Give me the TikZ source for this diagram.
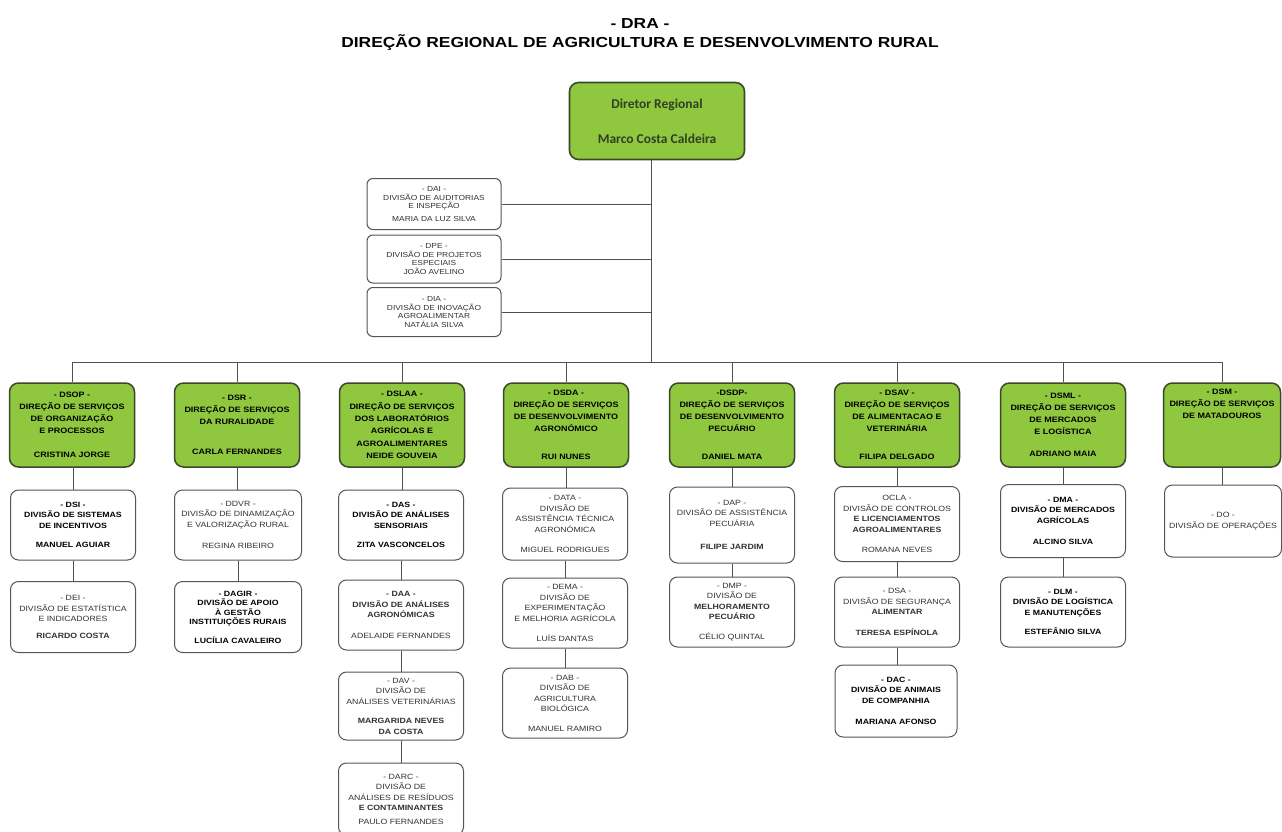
\documentclass[tikz,border=0pt]{standalone}
\usepackage{fontspec}
\usepackage{graphicx}
\setmainfont{Liberation Sans}[FakeStretch=1.15]
\newfontfamily\titlefont{Liberation Sans}[FakeStretch=1.2]
\newfontfamily\dirfont{Carlito}
\definecolor{boxgreen}{RGB}{143,200,62}
\definecolor{greenline}{RGB}{60,72,45}
\definecolor{boxline}{RGB}{85,85,85}
\definecolor{linkgray}{RGB}{80,80,80}
\definecolor{dirtext}{RGB}{50,62,38}
\definecolor{regtext}{RGB}{50,50,50}
\newcommand\bl[1]{\textbf{#1}}
\tikzset{
  dirbox/.style={draw=greenline, fill=boxgreen, rounded corners=9pt, line width=1.6pt,
    minimum width=175pt, minimum height=77pt, align=center, text=dirtext,
    font=\dirfont\bfseries\fontsize{13.5}{14}\selectfont, inner sep=1pt},
  staffbox/.style={draw=boxline, rounded corners=6pt, line width=1pt, fill=white,
    minimum width=134pt, align=center, text=regtext,
    font=\fontsize{7.3}{8.5}\selectfont, inner sep=1pt},
  dsbox/.style={draw=greenline, fill=boxgreen, rounded corners=9pt, line width=1.5pt,
    minimum width=125pt, minimum height=84pt, align=center, text=black,
    font=\bfseries\fontsize{7.8}{12}\selectfont, inner sep=1pt},
  divbox/.style={draw=boxline, rounded corners=8pt, line width=1pt, fill=white,
    minimum width=125pt, align=center, text=regtext,
    font=\fontsize{7.6}{10.5}\selectfont, inner sep=1pt},
  boldfont/.style={font=\bfseries\fontsize{7.6}{10.5}\selectfont, text=black},
  link/.style={draw=linkgray, line width=0.9pt}
}
\begin{document}
\begin{tikzpicture}[x=1pt,y=-1pt]
\useasboundingbox (0,0) rectangle (1282,832);
\fill[white] (0,0) rectangle (1282,832);

% title
\node[align=center, font=\titlefont\bfseries\fontsize{14.5}{19}\selectfont] (title) at (640,35)
  {- DRA -\\DIREÇÃO REGIONAL DE AGRICULTURA E DESENVOLVIMENTO RURAL};

% director
\node[dirbox] (dir) at (657,121) {Diretor Regional\\[21pt]Marco Costa Caldeira};

% staff divisions
\node[staffbox, minimum height=51pt] (dai) at (434,204) {- DAI -\\DIVISÃO DE AUDITORIAS\\E INSPEÇÃO\\[4pt]MARIA DA LUZ SILVA};
\node[staffbox, minimum height=48pt] (dpe) at (434,259) {- DPE -\\DIVISÃO DE PROJETOS\\ESPECIAIS\\JOÃO AVELINO};
\node[staffbox, minimum height=49pt] (dia) at (434,312) {- DIA -\\DIVISÃO DE INOVAÇÃO\\AGROALIMENTAR\\NATÁLIA SILVA};

% bus coordinates
\coordinate (busM) at (651,362);
\coordinate (busL) at (72,362);
\coordinate (busR) at (1222,362);

% top-level directions
\node[dsbox] (dsop) at (72,425) {- DSOP -\\DIREÇÃO DE SERVIÇOS\\DE ORGANIZAÇÃO\\E PROCESSOS\\[12pt]CRISTINA JORGE};
\node[dsbox] (dsr) at (237,425) {- DSR -\\DIREÇÃO DE SERVIÇOS\\DA RURALIDADE\\[18pt]CARLA FERNANDES};
\node[dsbox, font=\bfseries\fontsize{7.8}{12.3}\selectfont] (dslaa) at (402,425) {- DSLAA -\\DIREÇÃO DE SERVIÇOS\\DOS LABORATÓRIOS\\AGRÍCOLAS E\\AGROALIMENTARES\\NEIDE GOUVEIA};
\node[dsbox] (dsda) at (566,425) {- DSDA -\\DIREÇÃO DE SERVIÇOS\\DE DESENVOLVIMENTO\\AGRONÓMICO\\[16pt]RUI NUNES};
\node[dsbox] (dsdp) at (732,425) {-DSDP-\\DIREÇÃO DE SERVIÇOS\\DE DESENVOLVIMENTO\\PECUÁRIO\\[16pt]DANIEL MATA};
\node[dsbox] (dsav) at (897,425) {- DSAV -\\DIREÇÃO DE SERVIÇOS\\DE ALIMENTACAO E\\VETERINÁRIA\\[16pt]FILIPA DELGADO};
\node[dsbox] (dsml) at (1063,425) {- DSML -\\DIREÇÃO DE SERVIÇOS\\DE MERCADOS\\E LOGÍSTICA\\[10pt]ADRIANO MAIA};
\node[dsbox, minimum width=117pt] (dsm) at (1222,425) {- DSM -\\DIREÇÃO DE SERVIÇOS\\DE MATADOUROS\\[30pt]\mbox{}};

% column 1
\node[divbox, boldfont, minimum height=70pt] (dsi) at (73,525) {- DSI -\\DIVISÃO DE SISTEMAS\\DE INCENTIVOS\\[9pt]MANUEL AGUIAR};
\node[divbox, minimum height=71pt] (dei) at (73,617) {- DEI -\\DIVISÃO DE ESTATÍSTICA\\E INDICADORES\\[6pt]\bl{RICARDO COSTA}};
% column 2
\node[divbox, minimum height=70pt, minimum width=127pt] (ddvr) at (238,525) {- DDVR -\\DIVISÃO DE DINAMIZAÇÃO\\E VALORIZAÇÃO RURAL\\[11pt]REGINA RIBEIRO};
\node[divbox, font=\bfseries\fontsize{7.6}{9.5}\selectfont, text=black, minimum height=71pt, minimum width=127pt] (dagir) at (238,617) {- DAGIR -\\DIVISÃO DE APOIO\\À GESTÃO\\INSTITUIÇÕES RURAIS\\[9pt]LUCÍLIA CAVALEIRO};
% column 3
\node[divbox, boldfont, minimum height=70pt] (das) at (401,525) {- DAS -\\DIVISÃO DE ANÁLISES\\SENSORIAIS\\[9pt]ZITA VASCONCELOS};
\node[divbox, minimum height=70pt] (daa) at (401,615) {\bl{- DAA -}\\\bl{DIVISÃO DE ANÁLISES}\\\bl{AGRONÓMICAS}\\[10pt]ADELAIDE FERNANDES};
\node[divbox, minimum height=68pt] (dav) at (401,706) {- DAV -\\DIVISÃO DE\\ANÁLISES VETERINÁRIAS\\[9pt]\bl{MARGARIDA NEVES}\\\bl{DA COSTA}};
\node[divbox, minimum height=72pt] (darc) at (401,799) {- DARC -\\DIVISÃO DE\\ANÁLISES DE RESÍDUOS\\\bl{E CONTAMINANTES}\\[3pt]PAULO FERNANDES};
% column 4
\node[divbox, minimum height=72pt] (data) at (565,524) {- DATA -\\DIVISÃO DE\\ASSISTÊNCIA TÉCNICA\\AGRONÓMICA\\[10pt]MIGUEL RODRIGUES};
\node[divbox, minimum height=70pt] (dema) at (565,613) {- DEMA -\\DIVISÃO DE\\EXPERIMENTAÇÃO\\E MELHORIA AGRÍCOLA\\[10pt]LUÍS DANTAS};
\node[divbox, minimum height=70pt] (dab) at (565,703) {- DAB -\\DIVISÃO DE\\AGRICULTURA\\BIOLÓGICA\\[9pt]MANUEL RAMIRO};
% column 5
\node[divbox, minimum height=76pt] (dap) at (732,525) {- DAP -\\DIVISÃO DE ASSISTÊNCIA\\PECUÁRIA\\[13pt]\bl{FILIPE JARDIM}};
\node[divbox, minimum height=70pt] (dmp) at (732,612) {- DMP -\\DIVISÃO DE\\\bl{MELHORAMENTO}\\\bl{PECUÁRIO}\\[9pt]CÉLIO QUINTAL};
% column 6
\node[divbox, minimum height=75pt] (ocla) at (897,524) {OCLA -\\DIVISÃO DE CONTROLOS\\\bl{E LICENCIAMENTOS}\\\bl{AGROALIMENTARES}\\[10pt]ROMANA NEVES};
\node[divbox, minimum height=70pt] (dsa) at (897,612) {- DSA -\\DIVISÃO DE SEGURANÇA\\\bl{ALIMENTAR}\\[10pt]\bl{TERESA ESPÍNOLA}};
\node[divbox, boldfont, minimum height=72pt, minimum width=122pt] (dac) at (896,701) {- DAC -\\DIVISÃO DE ANIMAIS\\DE COMPANHIA\\[11pt]MARIANA AFONSO};
% column 7
\node[divbox, boldfont, minimum height=73pt] (dma) at (1063,521) {- DMA -\\DIVISÃO DE MERCADOS\\AGRÍCOLAS\\[11pt]ALCINO SILVA};
\node[divbox, boldfont, minimum height=70pt] (dlm) at (1063,612) {- DLM -\\DIVISÃO DE LOGÍSTICA\\E MANUTENÇÕES\\[9pt]ESTEFÂNIO SILVA};
% column 8
\node[divbox, minimum height=72pt, minimum width=117pt] (do) at (1223,521) {- DO -\\DIVISÃO DE OPERAÇÕES};

% connectors
\draw[link] ([xshift=-6pt]dir.south) -- (busM);
\draw[link] (dai.east) -- (dai.east -| busM);
\draw[link] (dpe.east) -- (dpe.east -| busM);
\draw[link] (dia.east) -- (dia.east -| busM);
\draw[link] (busL) -- (busR);
\foreach \n in {dsop,dsr,dslaa,dsda,dsdp,dsav,dsml,dsm}{
  \draw[link] (\n.north |- busL) -- (\n.north);
}
\draw[link] (dsop.south) -- (dsi.north |- dsop.south) -- (dsi.north);
\draw[link] (dsi.south) -- (dei.north);
\draw[link] (dsr.south) -- (dsr.south |- ddvr.north);
\draw[link] (ddvr.south) -- (dagir.north);
\draw[link] (dslaa.south) -- (dslaa.south |- das.north);
\draw[link] (das.south) -- (daa.north);
\draw[link] (daa.south) -- (dav.north);
\draw[link] (dav.south) -- (darc.north);
\draw[link] (dsda.south) -- (dsda.south |- data.north);
\draw[link] (data.south) -- (dema.north);
\draw[link] (dema.south) -- (dab.north);
\draw[link] (dsdp.south) -- (dap.north);
\draw[link] (dap.south) -- (dmp.north);
\draw[link] (dsav.south) -- (ocla.north);
\draw[link] (ocla.south) -- (dsa.north);
\draw[link] (dsa.south) -- (dac.north -| dsa.south);
\draw[link] (dsml.south) -- (dma.north);
\draw[link] (dma.south) -- (dlm.north);
\draw[link] (dsm.south) -- (dsm.south |- do.north);
\end{tikzpicture}
\end{document}
